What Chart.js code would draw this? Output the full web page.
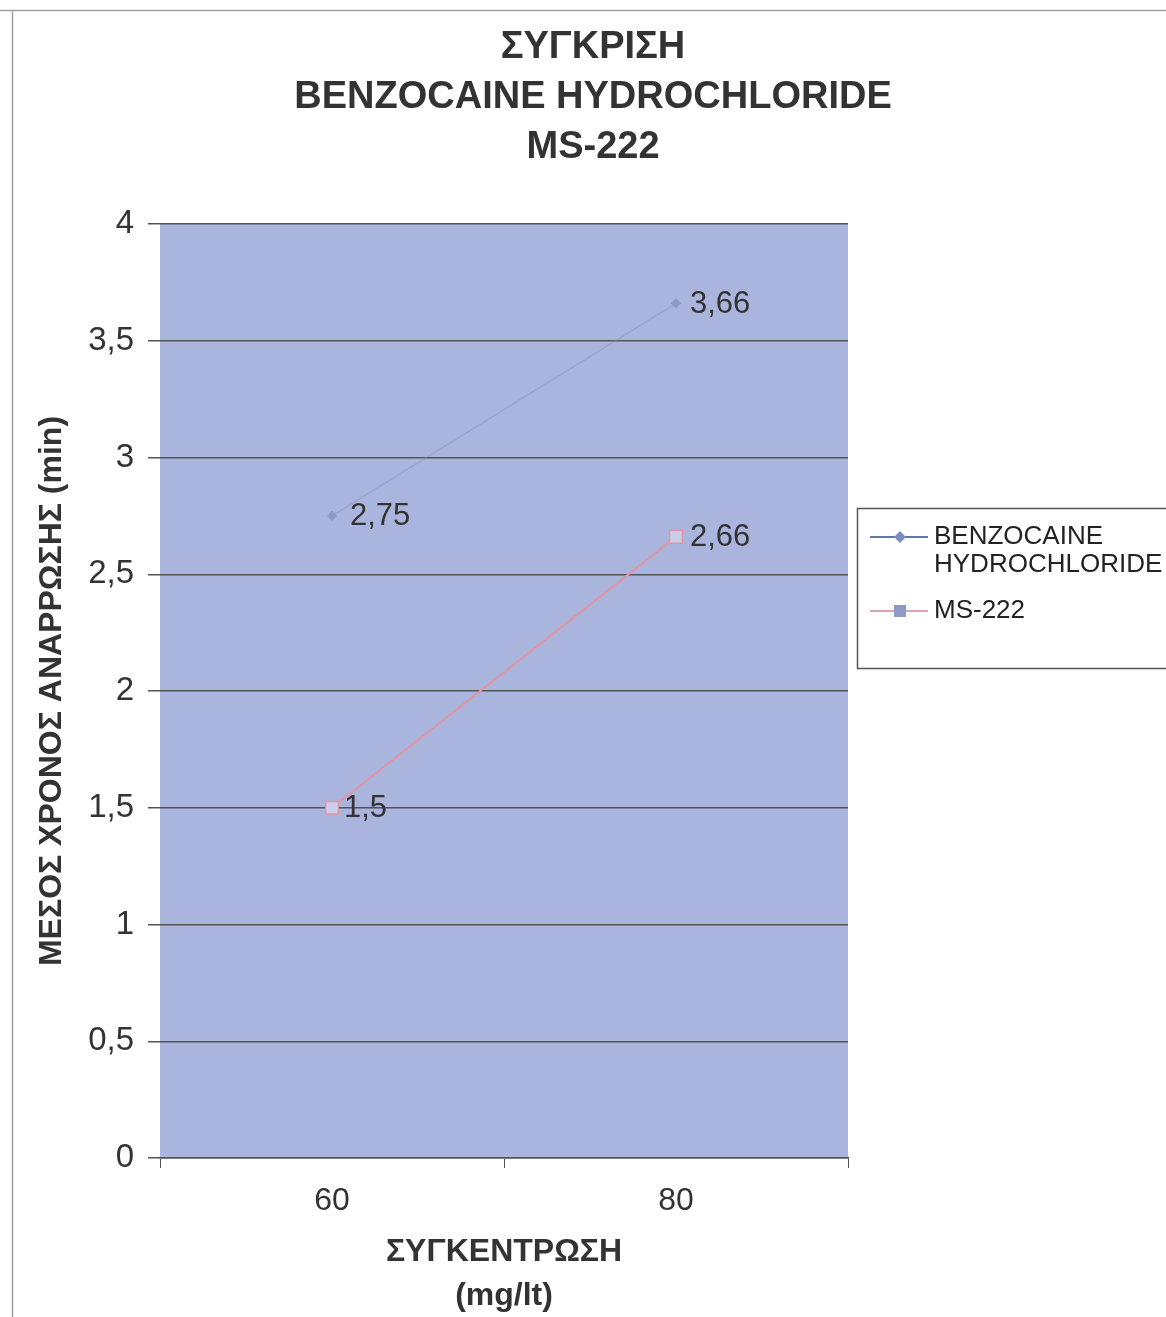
<!DOCTYPE html>
<html>
<head>
<meta charset="utf-8">
<script src="https://cdn.jsdelivr.net/npm/chart.js@4.4.1/dist/chart.umd.min.js"></script>
<style>
  html, body { margin: 0; padding: 0; background: #ffffff; }
  #wrap { width: 1166px; height: 1317px; position: relative; }
</style>
</head>
<body>
<div id="wrap"><canvas id="c" width="1166" height="1317"></canvas></div>
<script>
// Concentrations (mg/lt)
const categories = ['60', '80'];
// Mean recovery time (min)
const benzocaineValues = [2.75, 3.66];
const ms222Values = [1.5, 2.66];
const seriesNames = [['BENZOCAINE', 'HYDROCHLORIDE'], ['MS-222']];
const titleLines = ['ΣΥΓΚΡΙΣΗ', 'BENZOCAINE HYDROCHLORIDE', 'MS-222'];
const yTitle = 'ΜΕΣΟΣ ΧΡΟΝΟΣ ΑΝΑΡΡΩΣΗΣ (min)';
const xTitle = ['ΣΥΓΚΕΝΤΡΩΣΗ', '(mg/lt)'];

const FONT = "'Liberation Sans', Arial, sans-serif";
const fmt = v => String(v).replace('.', ',');

// plot background + page frame
const backdrop = {
  id: 'backdrop',
  beforeDraw(chart) {
    const { ctx, chartArea: a } = chart;
    ctx.save();
    ctx.fillStyle = '#ffffff';
    ctx.fillRect(0, 0, chart.width, chart.height);
    ctx.fillStyle = '#a9b5dc';
    ctx.fillRect(a.left, a.top, a.right - a.left, a.bottom - a.top);
    ctx.strokeStyle = '#a0a0a0';
    ctx.lineWidth = 1.5;
    ctx.beginPath();
    ctx.moveTo(0, 10.5); ctx.lineTo(chart.width, 10.5);
    ctx.moveTo(12.5, 10); ctx.lineTo(12.5, chart.height);
    ctx.stroke();
    ctx.restore();
  }
};

// three-line heading
const heading = {
  id: 'heading',
  afterDraw(chart) {
    const { ctx } = chart;
    ctx.save();
    ctx.font = 'bold 38px ' + FONT;
    ctx.fillStyle = '#333333';
    ctx.textAlign = 'center';
    ctx.textBaseline = 'middle';
    titleLines.forEach((t, i) => ctx.fillText(t, 593, 48 + i * 50));
    ctx.restore();
  }
};

// value labels next to each point
const valueLabels = {
  id: 'valueLabels',
  afterDatasetsDraw(chart) {
    const { ctx } = chart;
    ctx.save();
    ctx.font = '31px ' + FONT;
    ctx.fillStyle = '#333333';
    ctx.textBaseline = 'middle';
    ctx.textAlign = 'left';
    chart.data.datasets.forEach((ds, i) => {
      const meta = chart.getDatasetMeta(i);
      meta.data.forEach((pt, j) => {
        const dx = (i === 1 && j === 0) ? 12 : (j === 0 ? 18 : 14);
        ctx.fillText(fmt(ds.data[j]), pt.x + dx, pt.y + 1);
      });
    });
    ctx.restore();
  }
};

// boxed legend on the right
const boxLegend = {
  id: 'boxLegend',
  afterDraw(chart) {
    const { ctx } = chart;
    const x0 = 857, y0 = 508, w = 330, h = 160;
    ctx.save();
    ctx.fillStyle = '#ffffff';
    ctx.fillRect(x0, y0, w, h);
    ctx.strokeStyle = '#555555';
    ctx.lineWidth = 1.5;
    ctx.strokeRect(x0 + 0.5, y0 + 0.5, w, h);
    ctx.font = '26px ' + FONT;
    ctx.textBaseline = 'middle';
    const rows = [537, 611];
    chart.data.datasets.forEach((ds, i) => {
      const y = rows[i];
      ctx.strokeStyle = ds.legendLine;
      ctx.lineWidth = 2;
      ctx.beginPath();
      ctx.moveTo(870, y); ctx.lineTo(928, y);
      ctx.stroke();
      ctx.fillStyle = ds.legendMarker;
      if (i === 0) {
        ctx.beginPath();
        ctx.moveTo(900, y - 6); ctx.lineTo(906, y); ctx.lineTo(900, y + 6); ctx.lineTo(894, y);
        ctx.closePath(); ctx.fill();
      } else {
        ctx.fillRect(894, y - 6, 12, 12);
      }
      ctx.fillStyle = '#222222';
      seriesNames[i].forEach((t, k) => ctx.fillText(t, 934, y + k * 28));
    });
    ctx.restore();
  }
};

new Chart(document.getElementById('c'), {
  type: 'line',
  data: {
    labels: categories,
    datasets: [
      {
        label: seriesNames[0].join(' '),
        data: benzocaineValues,
        borderColor: 'rgba(130,140,180,0.35)',
        borderWidth: 1.5,
        pointStyle: 'rectRot',
        pointRadius: 4,
        pointBackgroundColor: '#8d99c4',
        pointBorderColor: '#8d99c4',
        legendLine: '#6677a3',
        legendMarker: '#7d8dbf'
      },
      {
        label: seriesNames[1].join(' '),
        data: ms222Values,
        borderColor: '#e495a3',
        borderWidth: 2,
        pointStyle: 'rect',
        pointRadius: 9,
        pointBackgroundColor: '#c9d0ea',
        pointBorderColor: '#e495a3',
        pointBorderWidth: 1.5,
        legendLine: '#d9a3b3',
        legendMarker: '#8e9bc9'
      }
    ]
  },
  options: {
    responsive: false,
    animation: false,
    events: [],
    layout: { padding: { top: 224, right: 318, bottom: 0, left: 0 } },
    plugins: {
      legend: { display: false },
      tooltip: { enabled: false },
      title: { display: false }
    },
    scales: {
      x: {
        offset: true,
        afterFit(s) { s.height = 159; },
        grid: { offset: true, drawOnChartArea: false, drawTicks: true, tickLength: 10, color: '#555555' },
        border: { display: true, color: '#555555', width: 1.5 },
        ticks: { color: '#333333', font: { family: FONT, size: 32 }, padding: 14 },
        title: {
          display: true,
          text: xTitle,
          color: '#333333',
          font: { family: FONT, size: 32, weight: 'bold', lineHeight: 1.4 },
          padding: { top: 0, bottom: -2 }
        }
      },
      y: {
        min: 0,
        max: 4,
        afterFit(s) { s.width = 160; },
        ticks: { stepSize: 0.5, color: '#333333', font: { family: FONT, size: 33 }, padding: 14, callback: v => fmt(v) },
        grid: { color: '#555555', lineWidth: 1.5, tickLength: 12 },
        border: { display: false },
        title: {
          display: true,
          text: yTitle,
          color: '#333333',
          font: { family: FONT, size: 32, weight: 'bold' },
          padding: { top: 33, bottom: 0 }
        }
      }
    }
  },
  plugins: [backdrop, heading, valueLabels, boxLegend]
});
</script>
</body>
</html>
